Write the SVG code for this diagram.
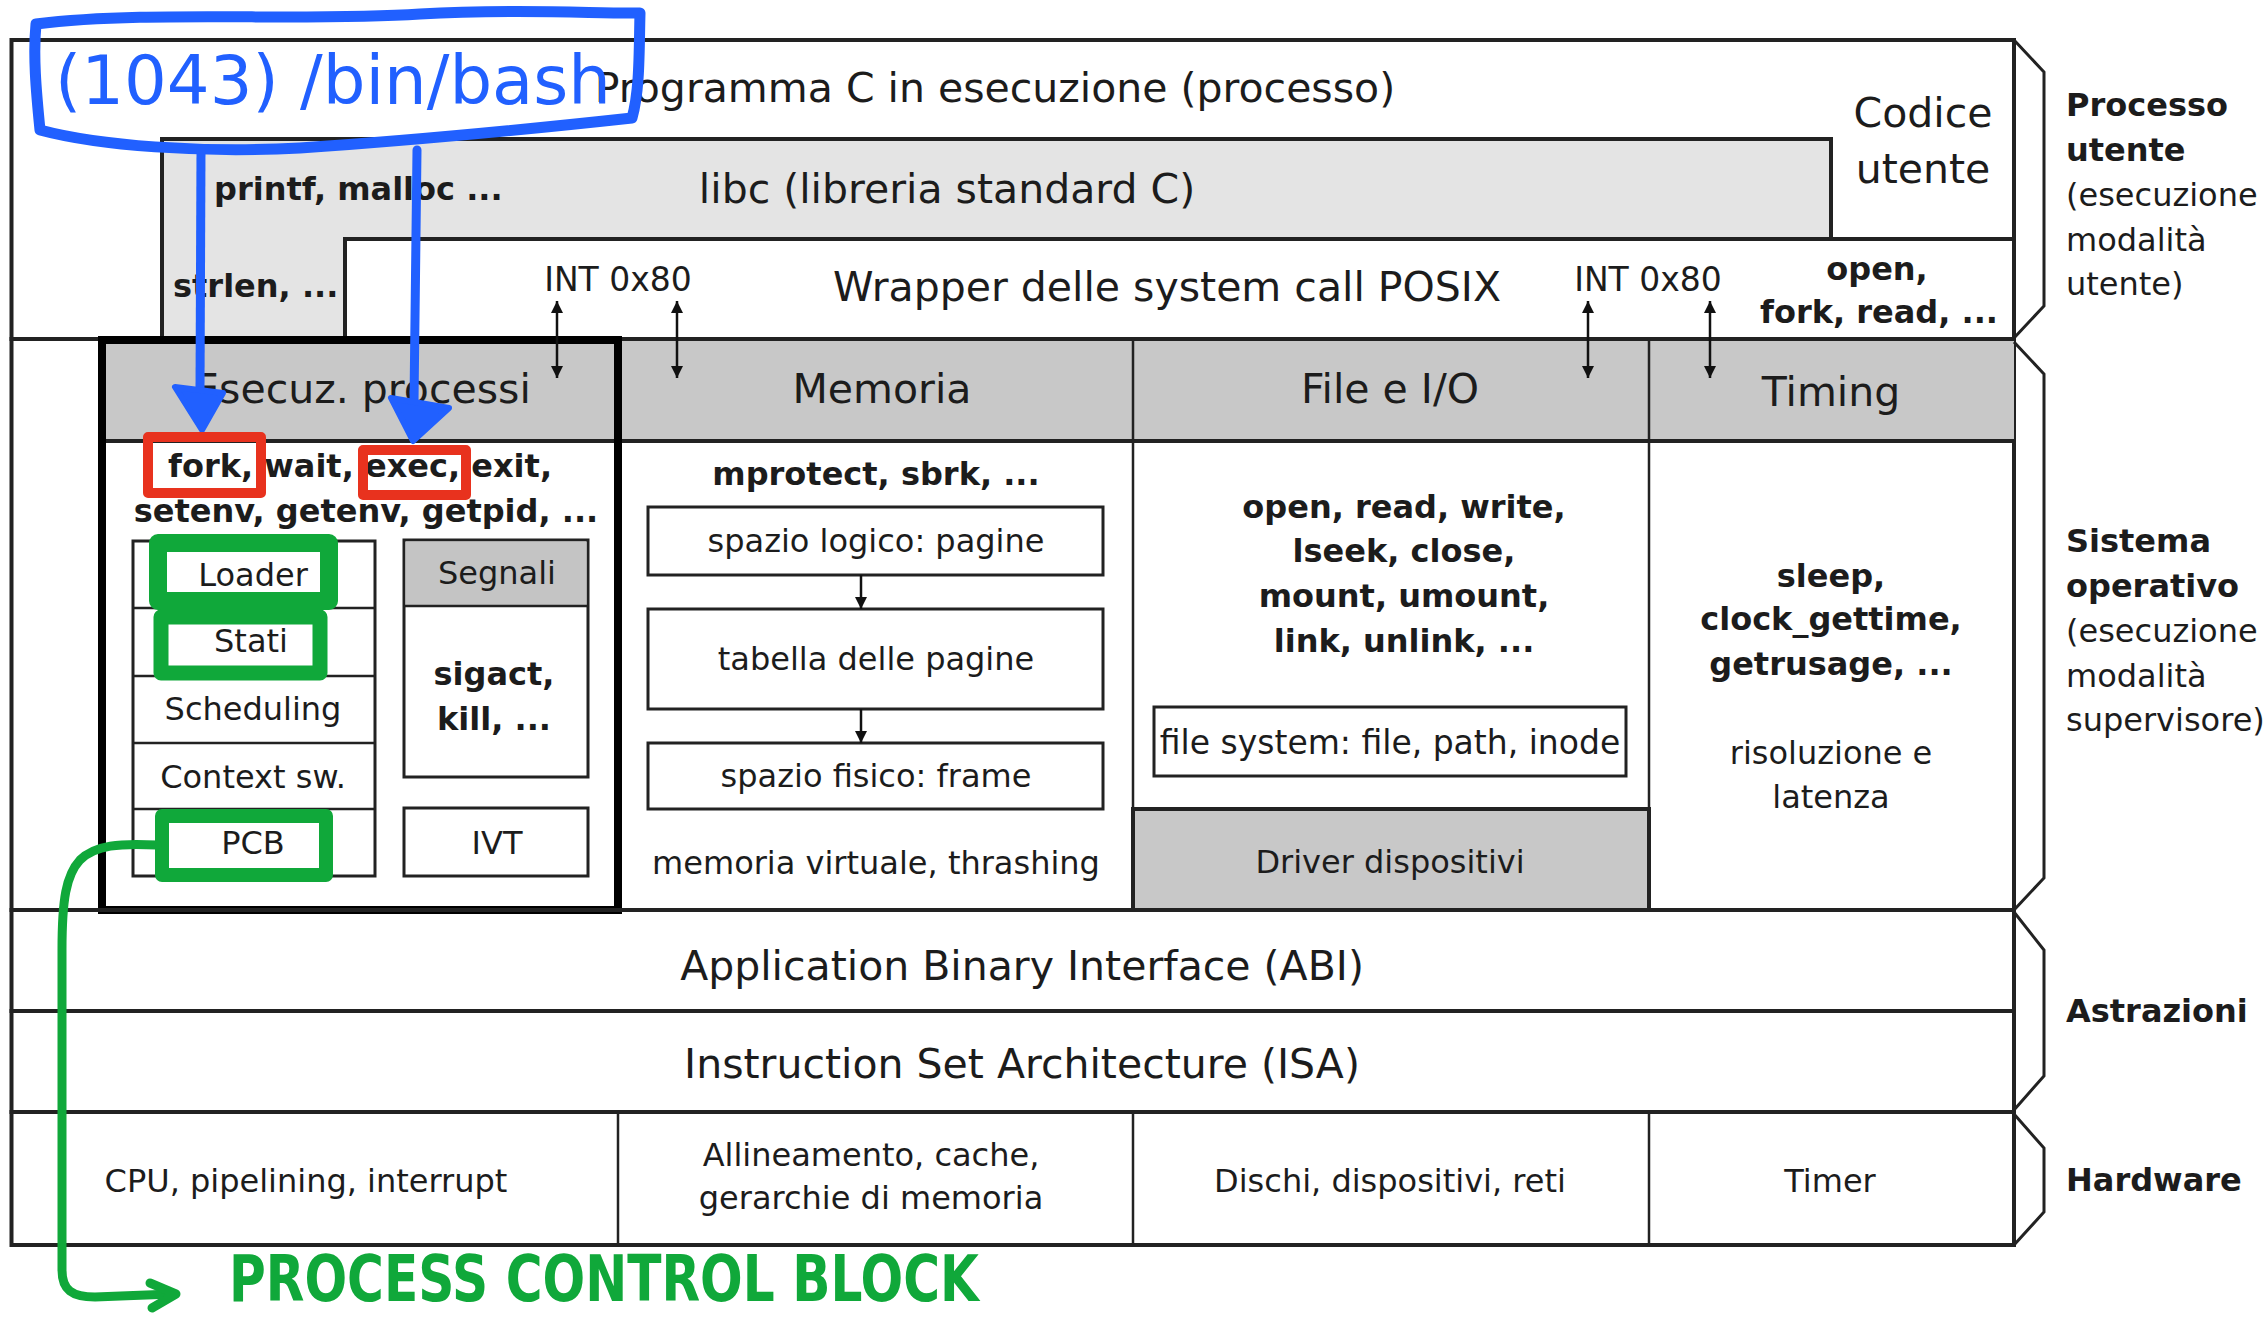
<svg xmlns="http://www.w3.org/2000/svg" width="2264" height="1318" viewBox="0 0 2264 1318">
<style>
text{font-family:"DejaVu Sans","Verdana",sans-serif;fill:#1c1c1c;dominant-baseline:central}
.c{text-anchor:middle}
.b{font-weight:bold}
.L{font-size:41px}
.M{font-size:32px}
.ln{stroke:#222;stroke-width:4}
.thin{stroke:#222;stroke-width:2.5}
.box{stroke:#222;stroke-width:3;fill:#fff}
.hdr{fill:#c8c8c8}
.blue{stroke:#2160ff;fill:none;stroke-linecap:round;stroke-linejoin:round}
.red{stroke:#e8321e;stroke-width:10;fill:none;stroke-linejoin:round}
.green{stroke:#10a83a;fill:none;stroke-linecap:round;stroke-linejoin:round}
.brace{stroke:#222;stroke-width:3;fill:none;stroke-linejoin:miter}
</style>
<defs>
<marker id="ah" viewBox="0 0 10 10" refX="10" refY="5" markerWidth="12" markerHeight="12" markerUnits="userSpaceOnUse" orient="auto-start-reverse">
<path d="M0,0 L10,5 L0,10 z" fill="#111"/>
</marker>
</defs>
<rect width="2264" height="1318" fill="#fff"/>

<g id="user-process">
<rect x="11.5" y="40" width="2002.5" height="299" fill="#fff" class="ln"/>
<polygon points="162,139 1831,139 1831,239 345,239 345,339 162,339" fill="#e4e4e4" class="ln"/>
<rect x="345" y="239" width="1669" height="100" fill="#fff" class="ln"/>
<text x="995" y="88" class="c L">Programma C in esecuzione (processo)</text>
<text x="1923" y="113" class="c L">Codice</text>
<text x="1923" y="169" class="c L">utente</text>
<text x="947" y="189" class="c L">libc (libreria standard C)</text>
<text x="214" y="189" class="M b">printf, malloc ...</text>
<text x="173" y="286" class="M b">strlen, ...</text>
<text x="618" y="279" class="c" font-size="33">INT 0x80</text>
<text x="1167" y="287" class="c L">Wrapper delle system call POSIX</text>
<text x="1648" y="279" class="c" font-size="33">INT 0x80</text>
<text x="1877" y="269" class="c M b">open,</text>
<text x="1879" y="312" class="c M b">fork, read, ...</text>
</g>

<g id="os">
<rect x="11.5" y="339" width="2002.5" height="571" fill="#fff" class="ln"/>
<rect x="102" y="339" width="1912" height="102" class="hdr"/>
<line x1="102" y1="441" x2="2014" y2="441" class="ln"/>
<line x1="11.5" y1="339" x2="2014" y2="339" class="ln"/>
<line x1="1133" y1="339" x2="1133" y2="910" class="thin"/>
<line x1="1649" y1="339" x2="1649" y2="910" class="thin"/>
<text x="882" y="389" class="c L">Memoria</text>
<text x="1390" y="389" class="c L">File e I/O</text>
<text x="1831" y="392" class="c L">Timing</text>
</g>

<g id="esecuz-processi">
<rect x="102" y="340" width="516" height="570" fill="none" stroke="#000" stroke-width="8"/>
<text x="362" y="389" class="c L">Esecuz. processi</text>
<text x="360" y="466" class="c M b">fork, wait, exec, exit,</text>
<text x="366" y="511" class="c M b">setenv, getenv, getpid, ...</text>
<rect x="133" y="541" width="242" height="335" class="box"/>
<line x1="133" y1="608" x2="375" y2="608" class="thin"/>
<line x1="133" y1="676" x2="375" y2="676" class="thin"/>
<line x1="133" y1="743" x2="375" y2="743" class="thin"/>
<line x1="133" y1="809" x2="375" y2="809" class="thin"/>
<text x="253" y="575" class="c M">Loader</text>
<text x="251" y="641" class="c M">Stati</text>
<text x="253" y="709" class="c M">Scheduling</text>
<text x="253" y="777" class="c M">Context sw.</text>
<text x="253" y="843" class="c M">PCB</text>
<rect x="404" y="540" width="184" height="237" class="box"/>
<rect x="405.5" y="541.5" width="181" height="64.5" fill="#c4c4c4"/>
<line x1="404" y1="606" x2="588" y2="606" class="thin"/>
<text x="497" y="573" class="c M">Segnali</text>
<text x="494" y="674" class="c M b">sigact,</text>
<text x="494" y="719" class="c M b">kill, ...</text>
<rect x="404" y="808" width="184" height="68" class="box"/>
<text x="497" y="843" class="c M">IVT</text>
</g>

<g id="memoria">
<text x="876" y="474" class="c M b">mprotect, sbrk, ...</text>
<rect x="648" y="507" width="455" height="68" class="box"/>
<text x="876" y="541" class="c M">spazio logico: pagine</text>
<rect x="648" y="609" width="455" height="100" class="box"/>
<text x="876" y="659" class="c M">tabella delle pagine</text>
<rect x="648" y="743" width="455" height="66" class="box"/>
<text x="876" y="776" class="c M">spazio fisico: frame</text>
<text x="876" y="863" class="c M">memoria virtuale, thrashing</text>
</g>

<g id="file-io">
<text x="1404" y="507" class="c M b">open, read, write,</text>
<text x="1404" y="551" class="c M b">lseek, close,</text>
<text x="1404" y="596" class="c M b">mount, umount,</text>
<text x="1404" y="641" class="c M b">link, unlink, ...</text>
<rect x="1154" y="707" width="472" height="69" class="box"/>
<text x="1390" y="742" class="c" font-size="33">file system: file, path, inode</text>
<rect x="1133" y="809" width="516" height="101" fill="#c8c8c8" class="ln"/>
<text x="1390" y="862" class="c M">Driver dispositivi</text>
</g>

<g id="timing">
<text x="1831" y="576" class="c M b">sleep,</text>
<text x="1831" y="619" class="c M b">clock_gettime,</text>
<text x="1831" y="664" class="c M b">getrusage, ...</text>
<text x="1831" y="753" class="c M">risoluzione e</text>
<text x="1831" y="797" class="c M">latenza</text>
</g>

<g id="abi">
<rect x="11.5" y="910" width="2002.5" height="101" fill="none" class="ln"/>
<text x="1022" y="966" class="c L">Application Binary Interface (ABI)</text>
</g>
<g id="isa">
<rect x="11.5" y="1011" width="2002.5" height="101" fill="none" class="ln"/>
<text x="1022" y="1064" class="c L">Instruction Set Architecture (ISA)</text>
</g>

<g id="hardware">
<rect x="11.5" y="1112" width="2002.5" height="133" fill="none" class="ln"/>
<line x1="618" y1="1112" x2="618" y2="1245" class="thin"/>
<line x1="1133" y1="1112" x2="1133" y2="1245" class="thin"/>
<line x1="1649" y1="1112" x2="1649" y2="1245" class="thin"/>
<text x="306" y="1181" class="c M">CPU, pipelining, interrupt</text>
<text x="871" y="1155" class="c M">Allineamento, cache,</text>
<text x="871" y="1198" class="c M">gerarchie di memoria</text>
<text x="1390" y="1181" class="c M">Dischi, dispositivi, reti</text>
<text x="1830" y="1181" class="c M">Timer</text>
</g>

<g id="connectors">
<line x1="557" y1="301" x2="557" y2="378" stroke="#111" stroke-width="2.5" marker-start="url(#ah)" marker-end="url(#ah)"/>
<line x1="677" y1="301" x2="677" y2="378" stroke="#111" stroke-width="2.5" marker-start="url(#ah)" marker-end="url(#ah)"/>
<line x1="1588" y1="301" x2="1588" y2="378" stroke="#111" stroke-width="2.5" marker-start="url(#ah)" marker-end="url(#ah)"/>
<line x1="1710" y1="301" x2="1710" y2="378" stroke="#111" stroke-width="2.5" marker-start="url(#ah)" marker-end="url(#ah)"/>
<line x1="861" y1="575" x2="861" y2="609" stroke="#111" stroke-width="2.5" marker-end="url(#ah)"/>
<line x1="861" y1="709" x2="861" y2="743" stroke="#111" stroke-width="2.5" marker-end="url(#ah)"/>
</g>

<g id="levels">
<polyline points="2014,40 2044,72 2044,306 2014,338" class="brace"/>
<polyline points="2014,342 2044,374 2044,878 2014,910" class="brace"/>
<polyline points="2014,912 2044,950 2044,1076 2014,1110" class="brace"/>
<polyline points="2014,1114 2044,1148 2044,1212 2014,1245" class="brace"/>
<text x="2066" y="105" class="M b">Processo</text>
<text x="2066" y="150" class="M b">utente</text>
<text x="2066" y="195" class="M">(esecuzione</text>
<text x="2066" y="240" class="M">modalità</text>
<text x="2066" y="284" class="M">utente)</text>
<text x="2066" y="541" class="M b">Sistema</text>
<text x="2066" y="586" class="M b">operativo</text>
<text x="2066" y="631" class="M">(esecuzione</text>
<text x="2066" y="676" class="M">modalità</text>
<text x="2066" y="720" class="M">supervisore)</text>
<text x="2066" y="1011" class="M b">Astrazioni</text>
<text x="2066" y="1180" class="M b">Hardware</text>
</g>

<g id="annotation-blue">
<path d="M36,24 C150,10 300,22 420,14 C520,8 600,14 640,13 C639,50 640,90 632,118 C540,128 420,140 300,148 C200,153 100,146 40,130 C36,90 33,55 36,24 Z" class="blue" stroke-width="11"/>
<text x="55" y="104" font-size="68" textLength="556" lengthAdjust="spacingAndGlyphs" style="fill:#2160ff;dominant-baseline:alphabetic">(1043) /bin/bash</text>
<path d="M201,150 L200,392" class="blue" stroke-width="9"/>
<path d="M175,387 L223,393 L202,430 Z" fill="#2160ff" stroke="#2160ff" stroke-width="6" stroke-linejoin="round"/>
<path d="M417,150 L414,402" class="blue" stroke-width="9"/>
<path d="M391,398 L449,408 L413,441 Z" fill="#2160ff" stroke="#2160ff" stroke-width="6" stroke-linejoin="round"/>
</g>

<g id="annotation-red">
<rect x="148" y="437" width="113" height="56" class="red"/>
<rect x="363" y="450" width="103" height="45" class="red"/>
</g>

<g id="annotation-green">
<rect x="158" y="543" width="171" height="58" class="green" stroke-width="18"/>
<rect x="161" y="617" width="159" height="56" class="green" stroke-width="15"/>
<rect x="162" y="816" width="164" height="59" class="green" stroke-width="14"/>
<path d="M157,845 C120,843 95,845 80,860 C66,875 62,900 62,950 L62,1270 C62,1290 72,1297 95,1297 L172,1294" class="green" stroke-width="9"/>
<path d="M150,1283 L176,1294 L152,1308" class="green" stroke-width="9"/>
<text x="229" y="1301" font-size="64" font-weight="bold" textLength="750" lengthAdjust="spacingAndGlyphs" style="fill:#10a83a;dominant-baseline:alphabetic">PROCESS CONTROL BLOCK</text>
</g>
</svg>
